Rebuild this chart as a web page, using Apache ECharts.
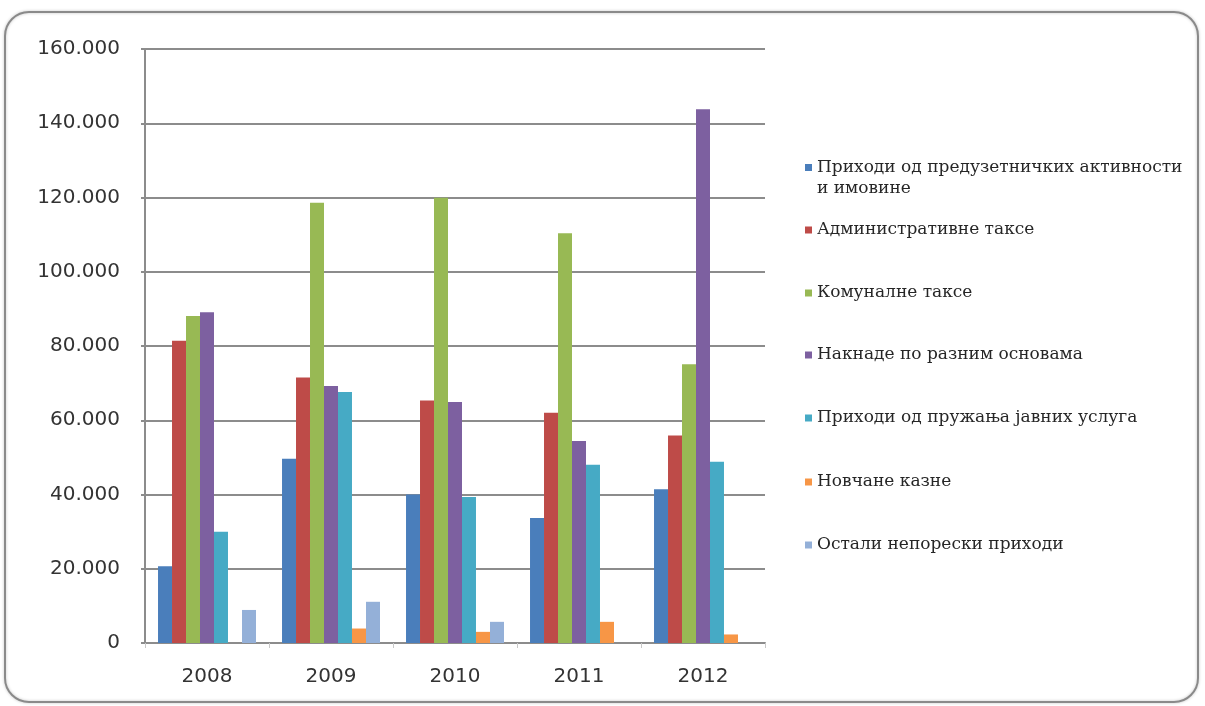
<!DOCTYPE html>
<html>
<head>
    <title>nonporeski prihodi</title>
    <meta charset="utf-8">
    <script src="https://cdn.jsdelivr.net/npm/echarts@6/dist/echarts.min.js"></script>
    <style>
        body { margin: 0; background: #fff; }
    </style>
</head>
<body>
<div id="main" style="width: 1205px; height: 706px;"></div>

<script>
    // years on the x axis
    var years = ['2008', '2009', '2010', '2011', '2012'];

    // series values
    var preduzetnicke = [20700, 49600, 40000, 33700, 41400];
    var administrativne = [81400, 71500, 65300, 62000, 55900];
    var komunalne = [88100, 118600, 119900, 110400, 75100];
    var naknade = [89100, 69200, 64900, 54400, 143800];
    var javneUsluge = [30000, 67600, 39300, 48000, 48800];
    var novcaneKazne = [0, 3900, 3000, 5700, 2300];
    var ostali = [8900, 11100, 5700, 0, 0];

    var seriesNames = [
        'Приходи од предузетничких активности и имовине',
        'Административне таксе',
        'Комуналне таксе',
        'Накнаде по разним основама',
        'Приходи од пружања јавних услуга',
        'Новчане казне',
        'Остали непорески приходи'
    ];
    var seriesData = [preduzetnicke, administrativne, komunalne, naknade, javneUsluge, novcaneKazne, ostali];
    var colors = ['#4a7ebb', '#be4b48', '#98b954', '#7d60a0', '#46aac5', '#f79646', '#94b0d8'];

    // y tick labels: 160.000 style
    function fmt(v) {
        if (v === 0) return '0';
        return String(v).replace(/\B(?=(\d{3})+(?!\d))/g, '.');
    }

    var myChart = echarts.init(document.getElementById('main'));

    // one legend per entry, so the spacing can follow the picture
    var legendCenters = [168, 230, 293, 355, 418, 482, 545];
    var legends = [];
    for (var i = 0; i < seriesNames.length; i++) {
        var lg = {
            data: [seriesNames[i]],
            left: 805,
            top: legendCenters[i] - 10,
            padding: 0,
            icon: 'rect',
            itemWidth: 7,
            itemHeight: 7,
            itemGap: 0,
            selectedMode: false,
            textStyle: {
                fontFamily: 'DejaVu Serif',
                fontSize: 17,
                color: '#262626',
                lineHeight: 20
            }
        };
        if (i === 0) {
            // blank first line keeps the marker next to the first text line
            lg.top = legendCenters[i] - 32;
            lg.formatter = function (name) {
                return '\u00a0\n' + name.replace(' и имовине', '\nи имовине');
            };
            lg.textStyle.lineHeight = 21;
        }
        legends.push(lg);
    }

    var series = [];
    for (var j = 0; j < seriesNames.length; j++) {
        series.push({
            name: seriesNames[j],
            type: 'bar',
            barGap: '0%',
            barCategoryGap: '21%',
            itemStyle: { color: colors[j] },
            data: seriesData[j]
        });
    }

    option = {
        animation: false,
        legend: legends,
        grid: {
            left: 145,
            right: 440,
            top: 49,
            bottom: 63
        },
        xAxis: {
            type: 'category',
            data: years,
            axisLine: { lineStyle: { color: '#8c8c8c', width: 2 } },
            axisTick: { show: true, length: 5, lineStyle: { color: '#c8c8c8' } },
            axisLabel: {
                margin: 24,
                fontFamily: 'DejaVu Sans',
                fontSize: 20,
                color: '#333'
            }
        },
        yAxis: {
            type: 'value',
            min: 0,
            max: 160000,
            interval: 20000,
            axisLine: { show: true, lineStyle: { color: '#8c8c8c', width: 2 } },
            axisTick: { show: true, length: 4, lineStyle: { color: '#8c8c8c', width: 2 } },
            splitLine: { lineStyle: { color: '#8c8c8c', width: 2 } },
            axisLabel: {
                margin: 25,
                formatter: fmt,
                fontFamily: 'DejaVu Sans',
                fontSize: 20,
                color: '#333'
            }
        },
        graphic: [{
            type: 'rect',
            shape: { x: 5, y: 12, width: 1193, height: 690, r: 24 },
            style: {
                fill: 'none',
                stroke: '#8a8a8a',
                lineWidth: 2,
                shadowBlur: 3,
                shadowColor: 'rgba(0,0,0,0.25)'
            },
            silent: true,
            z: -1
        }],
        series: series
    };

    myChart.setOption(option);
</script>

</body>
</html>
